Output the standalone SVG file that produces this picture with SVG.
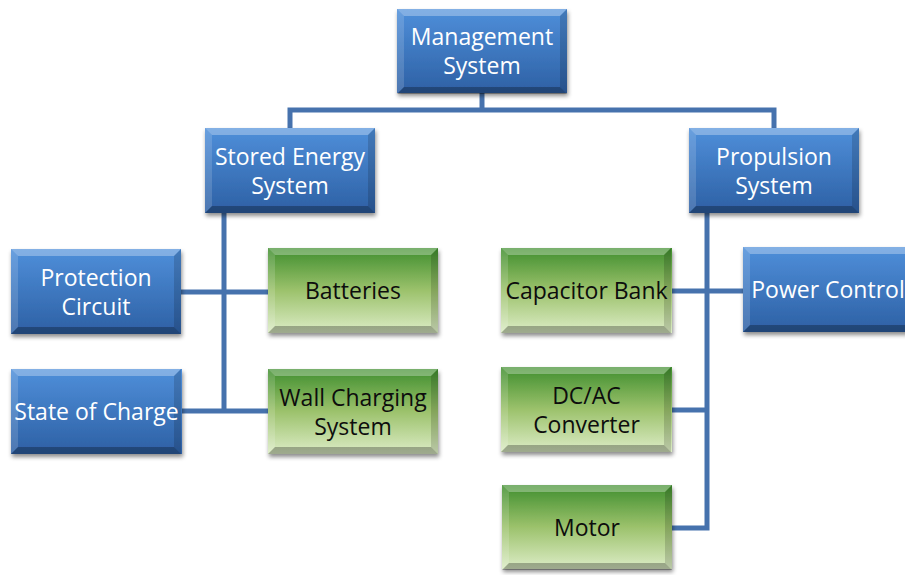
<svg xmlns="http://www.w3.org/2000/svg" xmlns:xlink="http://www.w3.org/1999/xlink" width="905" height="575" viewBox="0 0 905 575">
<style>
.b{fill:url(#gb);filter:url(#sh)}
.g{fill:url(#gg);filter:url(#sh)}
text{font-family:"Open Sans","Noto Sans","Liberation Sans",sans-serif;font-size:23px;text-anchor:middle}
.tw{fill:#ffffff}
.tk{fill:#0d0d0d}
.c{fill:none;stroke:#4672ad;stroke-width:5;stroke-linejoin:miter}
</style>
<defs>
<linearGradient id="gb" x1="0" y1="0" x2="0" y2="1">
<stop offset="0" stop-color="#4f8fda"/><stop offset="1" stop-color="#2d60a4"/>
</linearGradient>
<linearGradient id="gg" x1="0" y1="0" x2="0" y2="1">
<stop offset="0" stop-color="#3f8e2e"/><stop offset="0.5" stop-color="#9cc26c"/><stop offset="1" stop-color="#dcecc6"/>
</linearGradient>
<filter id="sh" x="-10%" y="-10%" width="125%" height="135%">
<feDropShadow dx="1" dy="3" stdDeviation="2" flood-color="#000" flood-opacity="0.45"/>
</filter>
<g id="bevel">
<polygon points="0,0 170,0 163,7 7,7" fill="#fff" fill-opacity="0.3"/>
<polygon points="0,0 7,7 7,78 0,85" fill="#fff" fill-opacity="0.15"/>
<polygon points="170,0 170,85 163,78 163,7" fill="#000" fill-opacity="0.15"/>
<polygon points="0,85 170,85 163,78 7,78" fill="#000" fill-opacity="0.28"/>
</g>
</defs>
<rect width="905" height="575" fill="#ffffff"/>
<g id="connectors">
<polyline class="c" points="482,93 482,110"/>
<polyline class="c" points="290,128 290,110 774,110 774,128"/>
<polyline class="c" points="224,213 224,411"/>
<polyline class="c" points="181,292 268,292"/>
<polyline class="c" points="182,411 268,411"/>
<polyline class="c" points="707,213 707,528 672,528"/>
<polyline class="c" points="672,291 743,291"/>
<polyline class="c" points="672,410 707,410"/>
</g>
<g id="mgmt" transform="translate(397,9)">
<rect class="b" width="170" height="84"/><use xlink:href="#bevel"/>
<text class="tw" x="85" y="36">Management</text><text class="tw" x="85" y="65">System</text>
</g>
<g id="stored" transform="translate(205,128)">
<rect class="b" width="170" height="85"/><use xlink:href="#bevel"/>
<text class="tw" x="85" y="36.5">Stored Energy</text><text class="tw" x="85" y="65.5">System</text>
</g>
<g id="propulsion" transform="translate(689,128)">
<rect class="b" width="170" height="85"/><use xlink:href="#bevel"/>
<text class="tw" x="85" y="36.5">Propulsion</text><text class="tw" x="85" y="65.5">System</text>
</g>
<g id="protection" transform="translate(11,249)">
<rect class="b" width="170" height="85"/><use xlink:href="#bevel"/>
<text class="tw" x="85" y="36.5">Protection</text><text class="tw" x="85" y="65.5">Circuit</text>
</g>
<g id="batteries" transform="translate(268,248)">
<rect class="g" width="170" height="85"/><use xlink:href="#bevel"/>
<text class="tk" x="85" y="51">Batteries</text>
</g>
<g id="capacitor" transform="translate(501,248)">
<rect class="g" width="171" height="85"/><use xlink:href="#bevel"/>
<text class="tk" x="85.5" y="51">Capacitor Bank</text>
</g>
<g id="power" transform="translate(743,247)">
<rect class="b" width="170" height="85"/><use xlink:href="#bevel"/>
<text class="tw" x="85" y="51">Power Control</text>
</g>
<g id="soc" transform="translate(11,369)">
<rect class="b" width="171" height="85"/><use xlink:href="#bevel"/>
<text class="tw" x="85.5" y="51">State of Charge</text>
</g>
<g id="wall" transform="translate(268,369)">
<rect class="g" width="170" height="85"/><use xlink:href="#bevel"/>
<text class="tk" x="85" y="36.5">Wall Charging</text><text class="tk" x="85" y="65.5">System</text>
</g>
<g id="dcac" transform="translate(501,367)">
<rect class="g" width="171" height="85"/><use xlink:href="#bevel"/>
<text class="tk" x="85.5" y="36.5">DC/AC</text><text class="tk" x="85.5" y="65.5">Converter</text>
</g>
<g id="motor" transform="translate(502,485)">
<rect class="g" width="170" height="84"/><use xlink:href="#bevel"/>
<text class="tk" x="85" y="51">Motor</text>
</g>
</svg>
